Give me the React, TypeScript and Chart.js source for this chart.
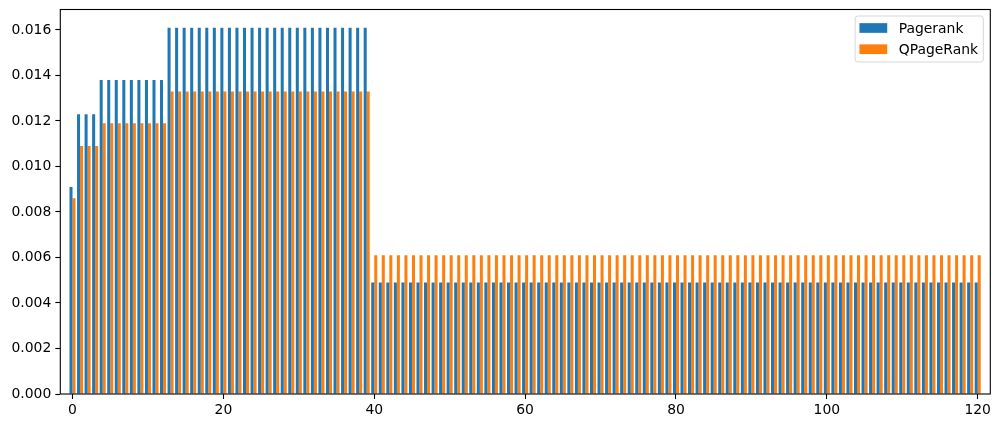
import React, { useEffect, useRef } from "react";
import { Chart, registerables } from "chart.js";

Chart.register(...registerables);

const categories = [
  0, 1, 2, 3, 4, 5, 6, 7, 8, 9, 10, 11, 12, 13, 14, 15, 16, 17, 18, 19,
  20, 21, 22, 23, 24, 25, 26, 27, 28, 29, 30, 31, 32, 33, 34, 35, 36, 37, 38, 39,
  40, 41, 42, 43, 44, 45, 46, 47, 48, 49, 50, 51, 52, 53, 54, 55, 56, 57, 58, 59,
  60, 61, 62, 63, 64, 65, 66, 67, 68, 69, 70, 71, 72, 73, 74, 75, 76, 77, 78, 79,
  80, 81, 82, 83, 84, 85, 86, 87, 88, 89, 90, 91, 92, 93, 94, 95, 96, 97, 98, 99,
  100, 101, 102, 103, 104, 105, 106, 107, 108, 109, 110, 111, 112, 113, 114, 115, 116, 117, 118, 119,
  120,
];

const pagerank = [
  0.0091,
  0.0123, 0.0123, 0.0123,
  0.0138, 0.0138, 0.0138, 0.0138, 0.0138, 0.0138, 0.0138, 0.0138, 0.0138,
  0.0161, 0.0161, 0.0161, 0.0161, 0.0161, 0.0161, 0.0161, 0.0161, 0.0161,
  0.0161, 0.0161, 0.0161, 0.0161, 0.0161, 0.0161, 0.0161, 0.0161, 0.0161,
  0.0161, 0.0161, 0.0161, 0.0161, 0.0161, 0.0161, 0.0161, 0.0161, 0.0161,
  0.0049, 0.0049, 0.0049, 0.0049, 0.0049, 0.0049, 0.0049, 0.0049, 0.0049,
  0.0049, 0.0049, 0.0049, 0.0049, 0.0049, 0.0049, 0.0049, 0.0049, 0.0049,
  0.0049, 0.0049, 0.0049, 0.0049, 0.0049, 0.0049, 0.0049, 0.0049, 0.0049,
  0.0049, 0.0049, 0.0049, 0.0049, 0.0049, 0.0049, 0.0049, 0.0049, 0.0049,
  0.0049, 0.0049, 0.0049, 0.0049, 0.0049, 0.0049, 0.0049, 0.0049, 0.0049,
  0.0049, 0.0049, 0.0049, 0.0049, 0.0049, 0.0049, 0.0049, 0.0049, 0.0049,
  0.0049, 0.0049, 0.0049, 0.0049, 0.0049, 0.0049, 0.0049, 0.0049, 0.0049,
  0.0049, 0.0049, 0.0049, 0.0049, 0.0049, 0.0049, 0.0049, 0.0049, 0.0049,
  0.0049, 0.0049, 0.0049, 0.0049, 0.0049, 0.0049, 0.0049, 0.0049, 0.0049,
];

const qpagerank = [
  0.0086,
  0.0109, 0.0109, 0.0109,
  0.0119, 0.0119, 0.0119, 0.0119, 0.0119, 0.0119, 0.0119, 0.0119, 0.0119,
  0.0133, 0.0133, 0.0133, 0.0133, 0.0133, 0.0133, 0.0133, 0.0133, 0.0133,
  0.0133, 0.0133, 0.0133, 0.0133, 0.0133, 0.0133, 0.0133, 0.0133, 0.0133,
  0.0133, 0.0133, 0.0133, 0.0133, 0.0133, 0.0133, 0.0133, 0.0133, 0.0133,
  0.0061, 0.0061, 0.0061, 0.0061, 0.0061, 0.0061, 0.0061, 0.0061, 0.0061,
  0.0061, 0.0061, 0.0061, 0.0061, 0.0061, 0.0061, 0.0061, 0.0061, 0.0061,
  0.0061, 0.0061, 0.0061, 0.0061, 0.0061, 0.0061, 0.0061, 0.0061, 0.0061,
  0.0061, 0.0061, 0.0061, 0.0061, 0.0061, 0.0061, 0.0061, 0.0061, 0.0061,
  0.0061, 0.0061, 0.0061, 0.0061, 0.0061, 0.0061, 0.0061, 0.0061, 0.0061,
  0.0061, 0.0061, 0.0061, 0.0061, 0.0061, 0.0061, 0.0061, 0.0061, 0.0061,
  0.0061, 0.0061, 0.0061, 0.0061, 0.0061, 0.0061, 0.0061, 0.0061, 0.0061,
  0.0061, 0.0061, 0.0061, 0.0061, 0.0061, 0.0061, 0.0061, 0.0061, 0.0061,
  0.0061, 0.0061, 0.0061, 0.0061, 0.0061, 0.0061, 0.0061, 0.0061, 0.0061,
];

const seriesLabels = ["Pagerank", "QPageRank"];
const xTicks = [0, 20, 40, 60, 80, 100, 120];
const yTicks = [0, 0.002, 0.004, 0.006, 0.008, 0.01, 0.012, 0.014, 0.016];

const COLORS = ["#1f77b4", "#ff7f0e"];
const FONT = { family: "'DejaVu Sans', sans-serif", size: 13.9 };

const framePlugin = {
  id: "frame",
  afterDatasetsDraw(chart: any) {
    const { ctx, chartArea } = chart;
    ctx.save();
    ctx.strokeStyle = "#000";
    ctx.lineWidth = 1.1;
    ctx.strokeRect(
      chartArea.left,
      chartArea.top,
      chartArea.right - chartArea.left,
      chartArea.bottom - chartArea.top
    );
    ctx.restore();
  },
};

const insideLegendPlugin = {
  id: "insideLegend",
  afterDraw(chart: any) {
    const { ctx, chartArea } = chart;
    const datasets = chart.data.datasets;
    ctx.save();
    ctx.font = `${FONT.size}px ${FONT.family}`;
    const textW = Math.max(...datasets.map((d: any) => ctx.measureText(d.label).width));
    const pad = 4.3;
    const patchW = 27.8;
    const patchH = 9.7;
    const gap = 11.5;
    const rowH = 21.2;
    const w = pad + patchW + gap + textW + pad + 1;
    const h = datasets.length * rowH + 3.6;
    const right = chartArea.right - 7;
    const top = chartArea.top + 6.5;
    const left = right - w;
    const r = 2.8;
    ctx.beginPath();
    ctx.moveTo(left + r, top);
    ctx.lineTo(right - r, top);
    ctx.arcTo(right, top, right, top + r, r);
    ctx.lineTo(right, top + h - r);
    ctx.arcTo(right, top + h, right - r, top + h, r);
    ctx.lineTo(left + r, top + h);
    ctx.arcTo(left, top + h, left, top + h - r, r);
    ctx.lineTo(left, top + r);
    ctx.arcTo(left, top, left + r, top, r);
    ctx.closePath();
    ctx.fillStyle = "rgba(255,255,255,0.8)";
    ctx.fill();
    ctx.strokeStyle = "rgba(204,204,204,0.8)";
    ctx.lineWidth = 1;
    ctx.stroke();
    datasets.forEach((d: any, i: number) => {
      const cy = top + 12 + i * rowH;
      ctx.fillStyle = d.backgroundColor;
      ctx.fillRect(left + pad, cy - patchH / 2, patchW, patchH);
      ctx.fillStyle = "#000";
      ctx.textBaseline = "middle";
      ctx.textAlign = "left";
      ctx.fillText(d.label, left + pad + patchW + gap, cy + 1);
    });
    ctx.restore();
  },
};

export default function App() {
  const canvasRef = useRef<HTMLCanvasElement | null>(null);

  useEffect(() => {
    if (!canvasRef.current) return;
    const chart = new Chart(canvasRef.current, {
      type: "bar",
      data: {
        datasets: [
          {
            label: seriesLabels[0],
            data: categories.map((c, i) => ({ x: c, y: pagerank[i] })),
            backgroundColor: COLORS[0],
            borderWidth: 0,
            categoryPercentage: 0.8,
            barPercentage: 1.0,
          },
          {
            label: seriesLabels[1],
            data: categories.map((c, i) => ({ x: c, y: qpagerank[i] })),
            backgroundColor: COLORS[1],
            borderWidth: 0,
            categoryPercentage: 0.8,
            barPercentage: 1.0,
          },
        ],
      },
      options: {
        animation: false,
        responsive: true,
        maintainAspectRatio: false,
        layout: { padding: { left: 0, top: 9.5, right: 9.7, bottom: 0 } },
        plugins: {
          legend: { display: false },
          tooltip: { enabled: false },
        },
        scales: {
          x: {
            type: "linear",
            offset: false,
            min: -1.62,
            max: 121.67,
            grid: {
              offset: false,
              drawOnChartArea: false,
              drawTicks: true,
              tickLength: 5,
              tickColor: "#000",
              tickWidth: 1.1,
            },
            border: { display: false },
            ticks: {
              color: "#000",
              font: FONT,
              padding: 3,
              maxRotation: 0,
              callback: (v: any) => String(v),
            },
            afterBuildTicks: (axis: any) => {
              axis.ticks = xTicks.map((v) => ({ value: v }));
            },
            afterFit: (axis: any) => {
              axis.height = 34;
              axis.paddingLeft = 0;
              axis.paddingRight = 0;
            },
          },
          y: {
            type: "linear",
            min: 0,
            max: 0.0169,
            grid: {
              offset: false,
              drawOnChartArea: false,
              drawTicks: true,
              tickLength: 5,
              tickColor: "#000",
              tickWidth: 1.1,
            },
            border: { display: false },
            ticks: {
              color: "#000",
              font: FONT,
              padding: 4,
              callback: (v: any) => Number(v).toFixed(3),
            },
            afterBuildTicks: (axis: any) => {
              axis.ticks = yTicks.map((v) => ({ value: v }));
            },
            afterFit: (axis: any) => {
              axis.width = 60.3;
              axis.paddingTop = 0;
              axis.paddingBottom = 0;
            },
          },
        },
      },
      plugins: [framePlugin, insideLegendPlugin],
    });
    return () => chart.destroy();
  }, []);

  return (
    <div
      style={{
        position: "fixed",
        left: 0,
        top: 0,
        width: "1000px",
        height: "428px",
        background: "#fff",
      }}
    >
      <canvas ref={canvasRef} />
    </div>
  );
}
